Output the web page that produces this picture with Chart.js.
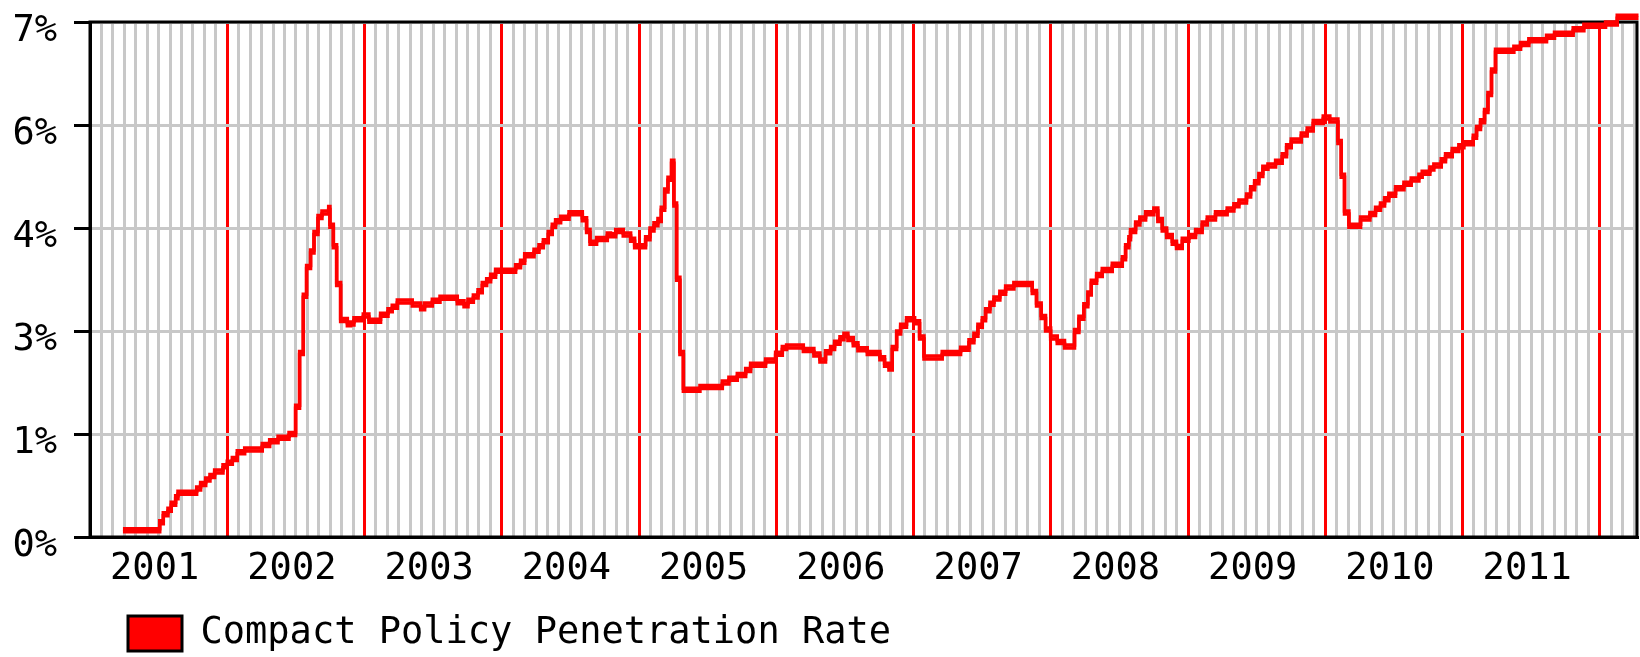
<!DOCTYPE html>
<html>
<head>
<meta charset="utf-8">
<title>Compact Policy Penetration Rate</title>
<script src="https://cdn.jsdelivr.net/npm/chart.js@4/dist/chart.umd.min.js"></script>
<style>
  html, body { margin: 0; padding: 0; background: #fff; }
  canvas { display: block; }
</style>
</head>
<body>
<canvas id="cpChart" width="1640" height="657"></canvas>
<script>
// x axis: decimal years, one grid line per month, red line at each new year
const X_MIN = 2001;
const X_MAX = 2012.271;
const yearLabels = ['2001', '2002', '2003', '2004', '2005', '2006', '2007', '2008', '2009', '2010', '2011'];

// y axis: 5 equal steps up to 7%, labels rounded like the original
const yTicks = [0, 1.4, 2.8, 4.2, 5.6, 7];
const yTickLabels = ['0%', '1%', '3%', '4%', '6%', '7%'];

// series (start of each flat run, percent)
const dates = [
  2001.240, 2001.508, 2001.534, 2001.568, 2001.592, 2001.624, 2001.641, 2001.777, 2001.806, 2001.843,
  2001.874, 2001.908, 2001.969, 2002.000, 2002.037, 2002.073, 2002.127, 2002.255, 2002.309, 2002.370,
  2002.450, 2002.498, 2002.527, 2002.554, 2002.578, 2002.607, 2002.632, 2002.661, 2002.690, 2002.739,
  2002.748, 2002.773, 2002.797, 2002.826, 2002.875,
  2002.899, 2002.923, 2002.991, 2003.032, 2003.117, 2003.171, 2003.202, 2003.239, 2003.348, 2003.409,
  2003.438, 2003.494, 2003.550, 2003.676, 2003.725, 2003.754, 2003.793, 2003.827, 2003.858, 2003.890,
  2003.919, 2003.955, 2004.101, 2004.137, 2004.167, 2004.235, 2004.271, 2004.303, 2004.339, 2004.368,
  2004.392, 2004.429, 2004.490, 2004.587, 2004.618, 2004.643, 2004.691, 2004.769,
  2004.793, 2004.830, 2004.885, 2004.939, 2004.968, 2005.048, 2005.080, 2005.109, 2005.138, 2005.162,
  2005.187, 2005.211, 2005.237, 2005.254, 2005.274, 2005.298, 2005.323, 2005.444, 2005.607, 2005.655,
  2005.716, 2005.777, 2005.813, 2005.922, 2005.995, 2006.044, 2006.075, 2006.197, 2006.274, 2006.318,
  2006.359, 2006.396, 2006.425, 2006.464, 2006.493, 2006.522, 2006.561, 2006.595, 2006.663,
  2006.755, 2006.789, 2006.821, 2006.845, 2006.877, 2006.906, 2006.949, 2007.008, 2007.044, 2007.076,
  2007.209, 2007.343, 2007.404, 2007.440, 2007.469, 2007.501, 2007.525, 2007.557, 2007.586, 2007.629,
  2007.671, 2007.731, 2007.865, 2007.896, 2007.930, 2007.962, 2007.999, 2008.047, 2008.100, 2008.173,
  2008.205, 2008.241, 2008.270, 2008.295, 2008.334, 2008.375, 2008.448, 2008.521, 2008.545, 2008.569,
  2008.581, 2008.618, 2008.649, 2008.691, 2008.751, 2008.780, 2008.812, 2008.844, 2008.885, 2008.916,
  2008.958, 2009.006, 2009.055, 2009.103, 2009.140, 2009.200, 2009.285, 2009.334, 2009.371, 2009.426,
  2009.456, 2009.485, 2009.516, 2009.545, 2009.582, 2009.638, 2009.686, 2009.718, 2009.752, 2009.825,
  2009.868, 2009.912, 2009.985, 2010.033, 2010.092, 2010.116, 2010.140, 2010.172, 2010.257, 2010.325,
  2010.366, 2010.402, 2010.432, 2010.463,
  2010.512, 2010.573, 2010.626, 2010.682, 2010.706, 2010.762, 2010.791, 2010.845, 2010.876, 2010.925,
  2010.973, 2011.010, 2011.078, 2011.102, 2011.131, 2011.160, 2011.185, 2011.211, 2011.240, 2011.374,
  2011.423, 2011.483, 2011.612, 2011.670, 2011.806, 2011.884, 2012.042, 2012.127, 2012.282
];
const rate = [
  0.07, 0.18, 0.29, 0.35, 0.43, 0.52, 0.58, 0.64, 0.70, 0.76,
  0.81, 0.87, 0.94, 0.99, 1.04, 1.13, 1.17, 1.23, 1.28, 1.33,
  1.38, 1.75, 2.48, 3.26, 3.65, 3.86, 4.11, 4.33, 4.39, 4.45,
  4.21, 3.93, 3.42, 2.93, 2.87,
  2.88, 2.94, 2.99, 2.92, 3.00, 3.06, 3.11, 3.18, 3.14, 3.09,
  3.14, 3.19, 3.23, 3.17, 3.13, 3.19, 3.25, 3.32, 3.42, 3.47,
  3.53, 3.60, 3.66, 3.72, 3.81, 3.87, 3.93, 4.00, 4.11, 4.21,
  4.27, 4.32, 4.38, 4.30, 4.14, 3.98, 4.03, 4.09,
  4.08, 4.14, 4.09, 4.02, 3.93, 4.04, 4.16, 4.23, 4.29, 4.44,
  4.69, 4.85, 5.08, 4.50, 3.49, 2.48, 1.98, 2.02, 2.08, 2.13,
  2.18, 2.25, 2.32, 2.38, 2.47, 2.55, 2.57, 2.52, 2.46, 2.38,
  2.49, 2.55, 2.62, 2.68, 2.73, 2.67, 2.60, 2.53, 2.48,
  2.41, 2.32, 2.27, 2.55, 2.76, 2.85, 2.94, 2.90, 2.69, 2.42,
  2.48, 2.54, 2.64, 2.73, 2.85, 2.94, 3.06, 3.15, 3.22, 3.30,
  3.37, 3.42, 3.31, 3.14, 2.97, 2.80, 2.69, 2.63, 2.57, 2.78,
  2.96, 3.13, 3.29, 3.45, 3.54, 3.61, 3.68, 3.77, 3.93, 4.04,
  4.14, 4.24, 4.31, 4.38, 4.43, 4.29, 4.16, 4.07, 3.98, 3.92,
  4.02, 4.07, 4.14, 4.24, 4.31, 4.38, 4.43, 4.49, 4.54, 4.62,
  4.72, 4.80, 4.90, 5.00, 5.03, 5.08, 5.17, 5.29, 5.37, 5.45,
  5.52, 5.62, 5.68, 5.64, 5.35, 4.89, 4.39, 4.21, 4.31, 4.37,
  4.44, 4.50, 4.57, 4.63,
  4.72, 4.78, 4.84, 4.89, 4.93, 4.99, 5.03, 5.10, 5.17, 5.24,
  5.29, 5.33, 5.42, 5.54, 5.63, 5.77, 6.00, 6.32, 6.59, 6.63,
  6.68, 6.73, 6.78, 6.82, 6.88, 6.93, 6.96, 7.05, 7.05
];

const seriesName = 'Compact Policy Penetration Rate';

const colors = {
  line: '#ff0000',
  yearLine: '#ff0000',
  grid: '#c8c8c8',
  ink: '#000000'
};

Chart.defaults.font.family = "'DejaVu Sans Mono', 'Liberation Mono', monospace";
Chart.defaults.font.size = 37;
Chart.defaults.color = colors.ink;

// black frame round the plot, drawn under the data line
const framePlugin = {
  id: 'frame',
  beforeDatasetsDraw(chart) {
    const { ctx, chartArea: a } = chart;
    ctx.save();
    ctx.strokeStyle = colors.ink;
    ctx.lineWidth = 3;
    ctx.strokeRect(a.left, a.top, a.right - a.left, a.bottom - a.top);
    ctx.restore();
  }
};

// old raster look: flat runs are thicker than the vertical jumps
const thickRunsPlugin = {
  id: 'thickRuns',
  beforeDatasetDraw(chart, args) {
    const ctx = chart.ctx;
    ctx.save();
    ctx.translate(0, -3);
    args.meta.controller.draw();
    ctx.restore();
  }
};

new Chart(document.getElementById('cpChart'), {
  type: 'line',
  data: {
    datasets: [{
      label: seriesName,
      data: dates.map((d, i) => ({ x: d, y: rate[i] })),
      borderColor: colors.line,
      backgroundColor: colors.line,
      borderWidth: 3.5,
      stepped: 'before',
      pointRadius: 0,
      fill: false,
      clip: false
    }]
  },
  options: {
    responsive: false,
    animation: false,
    devicePixelRatio: 1,
    layout: { padding: { top: 22, right: 3, left: 0, bottom: -5 } },
    plugins: {
      tooltip: { enabled: false },
      legend: {
        position: 'bottom',
        align: 'start',
        fullSize: false,
        labels: {
          boxWidth: 54,
          boxHeight: 35,
          padding: 38,
          color: colors.ink,
          font: { size: 37 },
          generateLabels: () => [{
            text: seriesName,
            fillStyle: colors.line,
            strokeStyle: colors.ink,
            lineWidth: 3,
            datasetIndex: 0
          }]
        }
      }
    },
    scales: {
      x: {
        type: 'linear',
        min: X_MIN,
        max: X_MAX,
        afterBuildTicks(scale) {
          const months = Math.floor((X_MAX - X_MIN) * 12);
          const ticks = [];
          for (let m = 0; m <= months; m++) ticks.push({ value: X_MIN + m / 12 });
          scale.ticks = ticks;
        },
        afterFit(scale) {
          scale.height = 40;
          scale.paddingLeft = 0;
          scale.paddingRight = 0;
          // let the year labels spill into the legend band instead of being clipped
          scale._computeLabelArea = () => undefined;
        },
        ticks: {
          autoSkip: false,
          maxRotation: 0,
          minRotation: 0,
          padding: 10,
          labelOffset: -4,
          callback: (v, i) => (i % 12 === 6 ? yearLabels[(i - 6) / 12] : '')
        },
        grid: {
          lineWidth: 3,
          drawTicks: false,
          color: ctx => (ctx.index % 12 === 0 && ctx.index > 0 ? colors.yearLine : colors.grid)
        },
        border: { color: colors.ink, width: 3 }
      },
      y: {
        min: 0,
        max: 7,
        afterBuildTicks(scale) {
          scale.ticks = yTicks.map(v => ({ value: v }));
        },
        afterFit(scale) {
          scale.width = 90;
          scale.paddingTop = 0;
          scale.paddingBottom = 0;
        },
        ticks: {
          padding: 17,
          labelOffset: 9,
          callback: (v, i) => yTickLabels[i]
        },
        grid: {
          lineWidth: 3,
          color: colors.grid,
          tickColor: colors.ink,
          tickWidth: 3,
          tickLength: 16
        },
        border: { color: colors.ink, width: 3 }
      }
    }
  },
  plugins: [framePlugin, thickRunsPlugin]
});
</script>
</body>
</html>
